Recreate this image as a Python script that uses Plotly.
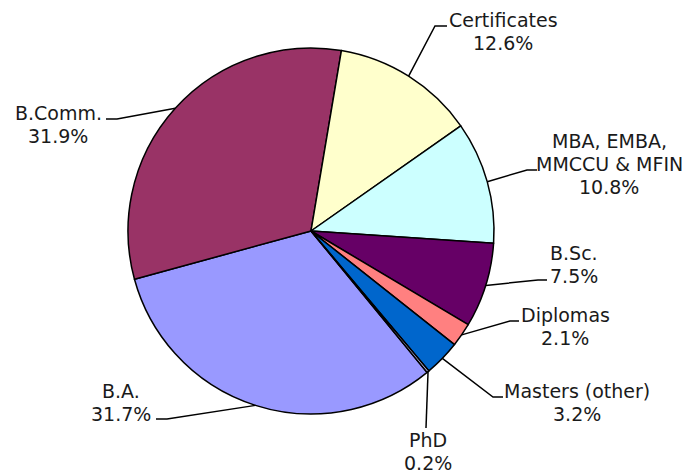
import math
import plotly.graph_objects as go

# ---- data (Excel series order) ----
categories = ["B.A.", "B.Comm.", "Certificates", "MBA, EMBA,<br>MMCCU & MFIN",
              "B.Sc.", "Diplomas", "Masters (other)", "PhD"]
shares = [31.7, 31.9, 12.6, 10.8, 7.5, 2.1, 3.2, 0.2]
pct_labels = ["31.7%", "31.9%", "12.6%", "10.8%", "7.5%", "2.1%", "3.2%", "0.2%"]
colors = ["#9999FF", "#993366", "#FFFFCC", "#CCFFFF", "#660066", "#FF8080", "#0066CC", "#CCCCFF"]

# ---- layout constants (pixels) ----
W, H = 684, 471
CX, CY, R = 311, 231, 183
ROT = 140.6  # start angle of first slice, degrees clockwise from 12 o'clock
LINE_GAP = 23

# label block centres and leader elbow/end points (pixels)
label_pos = [(121, 402), (58, 124), (503, 32), (609, 164),
             (574, 264), (565, 326), (577, 402), (428, 451)]
leader_pts = [[(167, 419), (156, 419)], [(117, 119), (106, 119)],
              [(435, 26), (447, 26)], [(527, 170), (537, 170)],
              [(538, 280), (547, 280)], [(510, 321), (519, 321)],
              [(493, 397), (503, 397)], [(426, 428), (426, 428)]]

def px(x):
    return x / W

def py(y):
    return 1 - y / H

fig = go.Figure(go.Pie(
    labels=categories, values=shares, sort=False, direction="clockwise",
    rotation=ROT, textinfo="none", hoverinfo="label+percent",
    marker=dict(colors=colors, line=dict(color="#000000", width=1.5)),
    domain=dict(x=[px(CX - R), px(CX + R)], y=[py(CY + R), py(CY - R)]),
    showlegend=False,
))

total = sum(shares)
cum = 0.0
shapes = []
annotations = []
for i, v in enumerate(shares):
    mid = ROT + 360.0 * (cum + v / 2) / total
    cum += v
    ax = CX + R * math.sin(math.radians(mid))
    ay = CY - R * math.cos(math.radians(mid))
    pts = [(ax, ay)] + leader_pts[i]
    path = "M " + " L ".join(f"{px(x):.5f},{py(y):.5f}" for x, y in pts)
    shapes.append(dict(type="path", xref="paper", yref="paper", path=path,
                       line=dict(color="#000000", width=1.5)))
    tx, ty = label_pos[i]
    lines = categories[i].split("<br>") + [pct_labels[i]]
    n = len(lines)
    for k, line in enumerate(lines):
        ly = ty + (k - (n - 1) / 2) * LINE_GAP
        annotations.append(dict(x=px(tx), y=py(ly), xref="paper", yref="paper",
                                text=line, showarrow=False,
                                xanchor="center", yanchor="middle",
                                font=dict(family="DejaVu Sans", size=19, color="#1a1a1a")))

fig.update_layout(width=W, height=H, margin=dict(l=0, r=0, t=0, b=0),
                  paper_bgcolor="white", plot_bgcolor="white",
                  shapes=shapes, annotations=annotations)
fig.write_html("out.html", config={"displayModeBar": False},
               post_script="document.body.style.margin='0';document.body.style.overflow='hidden';")
